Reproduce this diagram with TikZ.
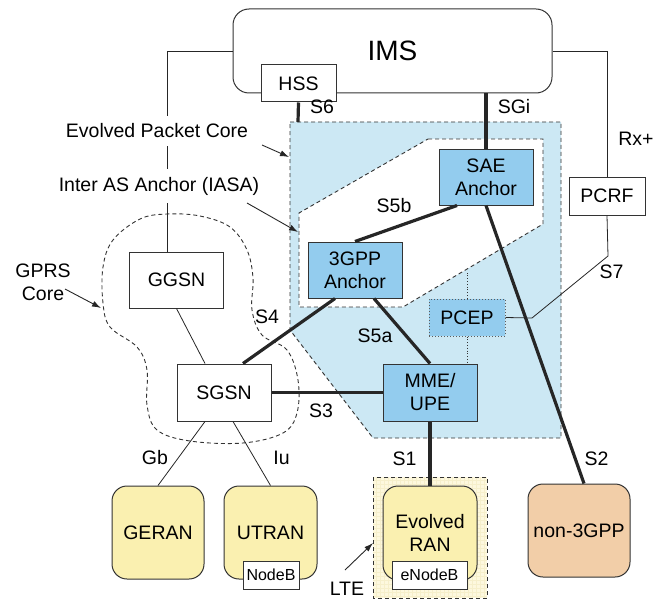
\documentclass[tikz,border=0pt]{standalone}
\usepackage{fontspec}
\setmainfont{Liberation Sans}
\usetikzlibrary{calc,arrows.meta}

\definecolor{epcblue}{HTML}{CCE8F4}
\definecolor{boxblue}{HTML}{93CCEE}
\definecolor{ranyellow}{HTML}{FAF0B0}
\definecolor{ltefill}{HTML}{FDF8DE}
\definecolor{ltegrid}{HTML}{F6EFCB}
\definecolor{peach}{HTML}{F2CEA8}
\definecolor{edge}{HTML}{333333}

\newcommand\lblfont{\fontsize{19.5}{23}\selectfont}
\newcommand\imsfont{\fontsize{28}{30}\selectfont}
\newcommand\smallfont{\fontsize{16}{18}\selectfont}

\begin{document}
\begin{tikzpicture}[
  x=1pt, y=-1pt,
  box/.style={draw=edge, line width=1pt, minimum width=94pt, minimum height=56pt,
              align=center, inner sep=0pt, font=\lblfont},
  whitebox/.style={box, fill=white},
  bluebox/.style={box, fill=boxblue},
  ranbox/.style={box, rounded corners=15pt, minimum width=93pt, minimum height=93pt},
  smallbox/.style={draw=edge, line width=1pt, fill=white, minimum height=28pt,
                   inner sep=0pt, font=\smallfont},
  region/.style={draw=edge, line width=0.9pt, dash pattern=on 4pt off 3pt},
  link/.style={draw=black!85, line width=0.8pt},
  iface/.style={draw=black!85, line width=3.2pt},
  ctrl/.style={draw=edge, line width=0.8pt, dotted},
  lbl/.style={font=\lblfont, inner sep=0pt, align=center},
  note/.style={font=\lblfont, fill=white, inner xsep=2pt, inner ysep=8pt, align=center},
  pointer/.style={draw=black!85, line width=0.9pt, -{Latex[length=9pt,width=6pt]}}
]
\useasboundingbox (0,0) rectangle (669,599);

% Evolved Packet Core area
\draw[region, fill=epcblue] (290,122) -- (561,122) -- (561,438) -- (373,438) -- (290,330) -- cycle;
% Inter AS Anchor area
\draw[region, fill=white] (428,139) -- (543,139) -- (543,224) -- (403,307) -- (299,307) -- (299,213) -- cycle;
% GPRS core outline
\draw[region] plot[smooth cycle, tension=0.6] coordinates {
  (167,214) (200,216) (230,227) (247,250) (253,278) (252,310) (262,335) (287,350)
  (298,380) (297,413) (283,433) (243,443) (190,441) (157,430) (147,405) (147,370)
  (137,347) (110,327) (103,303) (103,267) (113,240) (140,219)};
% LTE area
\fill[ltefill] (373,477) rectangle (487,598);
\begin{scope}
  \clip (373,477) rectangle (487,598);
  \draw[ltegrid, line width=0.3pt, step=4pt] (373,477) grid (487,598);
\end{scope}
\draw[region] (373,477) rectangle (487,598);

\coordinate (epctop) at (298,122);
\coordinate (pcrfbend) at (608,256);
\coordinate (pcrfjoin) at (532,318);
\coordinate (iasaedge) at (467,271);

% network elements
\node[box, fill=white, rounded corners=16pt, minimum width=319pt, minimum height=84pt,
      font=\imsfont] (ims) at (392.5,51) {IMS};
\node[whitebox, minimum width=75pt, minimum height=37pt] (hss) at (298.5,83.5) {HSS};
\node[whitebox, minimum width=76pt, minimum height=38pt] (pcrf) at (607,196) {PCRF};
\node[whitebox] (ggsn) at (176.5,280) {GGSN};
\node[whitebox, minimum height=57pt] (sgsn) at (224,392.5) {SGSN};
\node[bluebox] (sae) at (486,177) {SAE\\Anchor};
\node[bluebox] (gpp) at (355,270) {3GPP\\Anchor};
\node[bluebox, draw=edge!80, dotted, minimum width=76pt, minimum height=37pt] (pcep) at (467,317.5) {PCEP};
\node[bluebox, minimum height=57pt] (mme) at (430,392.5) {MME/\\UPE};
\node[ranbox, fill=ranyellow, minimum width=92pt] (geran) at (158,532.5) {GERAN};
\node[ranbox, fill=ranyellow] (utran) at (270.5,532.5) {UTRAN};
\node[ranbox, fill=ranyellow, minimum width=94pt, minimum height=94pt] (eran) at (430,533) {Evolved\\RAN};
\node[ranbox, fill=peach, minimum width=102pt] (non3gpp) at (579,530.5) {non-3GPP};
\node[smallbox, minimum width=56pt] (nodeb) at (271,575) {NodeB};
\node[smallbox, minimum width=75pt] (enodeb) at (429.5,575) {eNodeB};

% thin connections
\draw[link] (ims.west) -| ($(ggsn.north)+(-9.5,0)$);
\draw[link] (ims.east) -| (pcrf.north);
\draw[link] (pcrf.south) -- (pcrfbend) -- (pcrfjoin) -- (pcep.east);
\draw[link] (ggsn.south) -- ($(sgsn.north)+(-19,0)$);
\draw[link] ($(sgsn.south)+(-19,0)$) -- (geran.north);
\draw[link] ($(sgsn.south)+(9,0)$) -- (utran.north);
\draw[ctrl] (pcep.north) -- (iasaedge);
\draw[ctrl] (pcep.south) -- (pcep.south |- mme.north);

% reference points
\draw[iface] (hss.south) -- (epctop);
\draw[iface] (sae.north) -- (sae.north |- ims.south);
\draw[iface] ($(sae.south)+(-29,0)$) -- (gpp.north);
\draw[iface] ($(gpp.south)+(19,0)$) -- (mme.north);
\draw[iface] ($(gpp.south)+(-20,0)$) -- ($(sgsn.north)+(19,0)$);
\draw[iface] (sgsn.east) -- (mme.west);
\draw[iface] (mme.south) -- (eran.north);
\draw[iface] (sae.south) -- ($(non3gpp.north)+(5,0)$);

% interface labels
\node[lbl] (ls6) at (322,107) {S6};
\node[lbl] (lsgi) at (514,107) {SGi};
\node[lbl] (lrx) at (636,139) {Rx+};
\node[lbl] (ls7) at (611.5,272) {S7};
\node[lbl] (ls5b) at (394,205.5) {S5b};
\node[lbl] (ls5a) at (375,336) {S5a};
\node[lbl] (ls4) at (267,317) {S4};
\node[lbl] (ls3) at (321,410.5) {S3};
\node[lbl] (lgb) at (155,458) {Gb};
\node[lbl] (liu) at (281.5,458) {Iu};
\node[lbl] (ls1) at (404.5,459) {S1};
\node[lbl] (ls2) at (596.5,459) {S2};

% area names
\node[note] (nepc) at (157,131) {Evolved Packet Core};
\node[note] (niasa) at (159,186) {Inter AS Anchor (IASA)};
\node[lbl] (ngprs) at (43,282) {GPRS\\Core};
\node[lbl] (nlte) at (347,589) {LTE};

\coordinate (epcmark) at (289,157);
\coordinate (iasamark) at (298,232);
\coordinate (gprsmark) at (101,308);
\coordinate (ltemark) at (373,543);
\draw[pointer] (262,145) -- (epcmark);
\draw[pointer] (247,203) -- (iasamark);
\draw[pointer] (65,289) -- (gprsmark);
\draw[pointer] (345,570) -- (ltemark);
\end{tikzpicture}
\end{document}
